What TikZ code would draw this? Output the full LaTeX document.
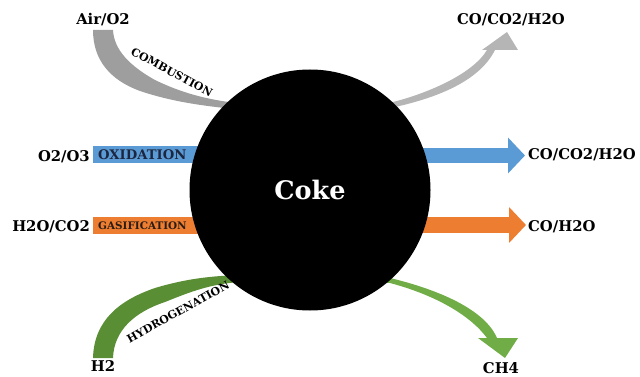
\documentclass[tikz,border=0pt]{standalone}
\usepackage{fontspec}
\setmainfont{DejaVu Serif}
\usetikzlibrary{arrows.meta}
\definecolor{oxblue}{HTML}{5B9BD5}
\definecolor{gasorange}{HTML}{ED7D31}
\definecolor{hydgreen}{HTML}{5A8E34}
\definecolor{chgreen}{HTML}{70AD47}
\definecolor{combgray}{HTML}{9E9E9E}
\definecolor{outgray}{HTML}{B5B5B5}
\definecolor{oxtext}{HTML}{1C2640}
\definecolor{gastext}{HTML}{2A1C12}
\tikzset{
  lbl/.style={font=\fontsize{14.8}{16}\selectfont\bfseries, inner sep=1pt},
  band/.style={anchor=west, minimum height=17pt, text width=130pt, inner xsep=5pt, inner ysep=0pt},
  fat/.style={line width=#1, -{Triangle[length=17pt,width=35pt]}},
  curvetext/.style={font=\fontsize{11}{12}\selectfont\bfseries, inner sep=0pt}
}
\begin{document}
\begin{tikzpicture}[x=1pt,y=-1pt]
\useasboundingbox (0,0) rectangle (640,377);
\coordinate (kc) at (310,190);

\node[lbl, anchor=base] (air) at (103,25) {Air/O2};
\node[lbl, anchor=base] (gasout) at (511,25) {CO/CO2/H2O};
\node[lbl, anchor=base east] (ozone) at (91,161) {O2/O3};
\node[lbl, anchor=base east] (steam) at (91,231) {H2O/CO2};
\node[lbl, anchor=base west] (oxout) at (527,160) {CO/CO2/H2O};
\node[lbl, anchor=base west] (gsout) at (527,231) {CO/H2O};
\node[lbl, anchor=base] (hyd) at (103,371) {H2};
\node[lbl, anchor=base] (methane) at (501,373) {CH4};

\node[band, fill=oxblue, text=oxtext, font=\fontsize{13.2}{14}\selectfont\bfseries] (oxi) at (93,154.5) {OXIDATION};
\node[band, fill=gasorange, text=gastext, font=\fontsize{10.4}{12}\selectfont\bfseries] (gasi) at (93,225.5) {GASIFICATION};

\draw[oxblue, fat=15pt] (kc |- 0,155.5) -- (525,155.5);
\draw[gasorange, fat=16pt] (kc |- 0,225) -- (526,225);

\fill[combgray] (93,30) .. controls (93,60) and (110,80) .. (140,91)
  .. controls (170,101) and (200,106) .. (245,110) -- (245,104)
  .. controls (205,100) and (180,92) .. (155,80)
  .. controls (130,66) and (114,50) .. (113,30) -- cycle;
\fill[outgray] (380,110) -- (395,107) .. controls (440,97) and (480,80) .. (495,50)
  -- (518,50) -- (507,32) -- (482,50) -- (487,50)
  .. controls (472,75) and (425,94) .. (393,102) -- (378,105) -- cycle;
\fill[hydgreen] (93,358) .. controls (94,320) and (120,300) .. (155,288)
  .. controls (185,279) and (210,276) .. (240,275) -- (240,282)
  .. controls (210,284) and (190,292) .. (165,302)
  .. controls (135,312) and (114,330) .. (113,358) -- cycle;
\fill[chgreen] (375,275) -- (390,278) .. controls (440,290) and (485,310) .. (497,338)
  -- (518,338) -- (505,358) -- (478,338) -- (487,338)
  .. controls (470,315) and (435,295) .. (390,283) -- (375,282) -- cycle;

\node[curvetext, rotate=-28] (comb) at (172,72) {COMBUSTION};
\node[curvetext, rotate=29] (hydro) at (178,312) {HYDROGENATION};

\node[circle, fill=black, minimum size=241pt, inner sep=0pt, text=white,
  font=\fontsize{25.5}{28}\selectfont\bfseries] (coke) at (kc) {Coke};
\end{tikzpicture}
\end{document}
